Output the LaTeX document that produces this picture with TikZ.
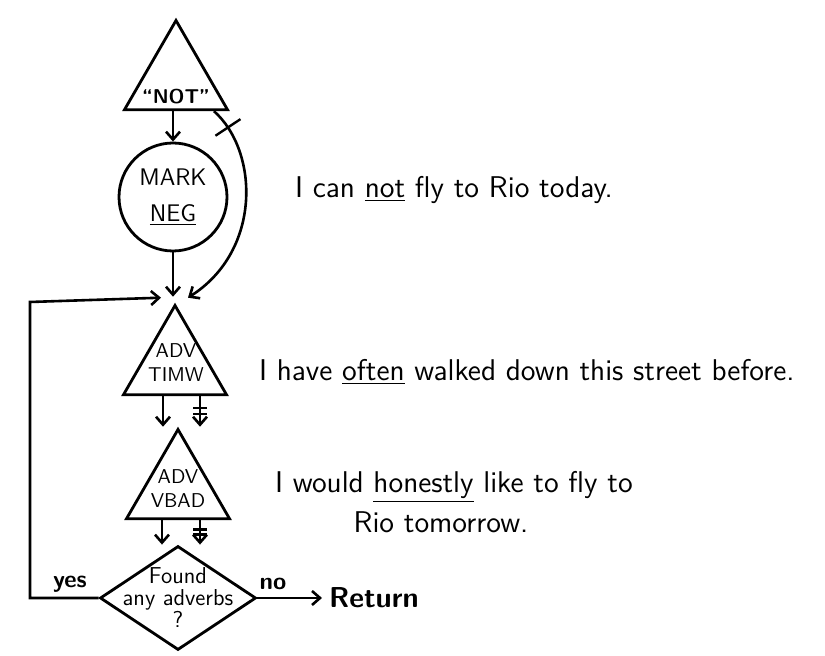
\documentclass[tikz,border=0pt]{standalone}
\usepackage{tikz}
\usetikzlibrary{arrows.meta,calc,positioning,shapes.geometric,decorations.markings}

\tikzset{
  tri/.style={draw,line width=1.4pt,regular polygon,regular polygon sides=3,minimum size=59.5pt,inner sep=0pt},
  tritxt/.style={align=center,font=\sffamily,inner sep=0pt},
  arr/.style={line width=1.3pt,-{Straight Barb[length=4pt,width=7pt]}},
  onebar/.style={postaction={decorate,decoration={markings,
      mark=at position 0.1 with {\draw[-,line width=1.2pt] (0,-7.5pt)--(0,7.5pt);}}}},
  twobars/.style={postaction={decorate,decoration={markings,
      mark=at position 0.38 with {\draw[-,line width=1.2pt] (0,-3.5pt)--(0,3.5pt);},
      mark=at position 0.58 with {\draw[-,line width=1.2pt] (0,-3.5pt)--(0,3.5pt);}}}},
  sent/.style={anchor=west,font=\sffamily\fontsize{15}{18}\selectfont},
  yesno/.style={font=\sffamily\large\bfseries},
}

\begin{document}
\begin{tikzpicture}[x=0.5pt,y=-0.5pt,font=\sffamily]
\useasboundingbox (0,0) rectangle (825,656);
% boxes of the chart
\node[tri] (not) at (176,80) {};
\node[font=\sffamily\bfseries,above=0pt of not.south] (nottxt) {``NOT''};
\node[draw,circle,line width=1.4pt,minimum size=54pt,inner sep=1pt,align=center,font=\sffamily\large] (mark) at (173,197) {MARK\\[4pt]\underline{NEG}};
\node[tri] (timw) at (175,365) {};
\node[tritxt] (timwtxt) at (176,363) {ADV\\TIMW};
\node[tri] (vbad) at (178,489) {};
\node[tritxt] (vbadtxt) at (178,489) {ADV\\VBAD};
\node[draw,diamond,line width=1.4pt,minimum width=78pt,minimum height=52pt,inner sep=0pt] (found) at (178,598) {};
\node[align=center,font=\sffamily\fontsize{11.5}{11}\selectfont] (foundtxt) at (found) {Found\\any adverbs\\?};
\node[anchor=west,font=\sffamily\Large\bfseries] (ret) at (322,598) {Return};
% example sentences
\node[sent] (s1) at (288,190) {I can \underline{not} fly to Rio today.};
\node[sent] (s2) at (252,372) {I have \underline{often} walked down this street before.};
\node[sent] (s3) at (268,487) {I would \underline{honestly} like to fly to};
\node[font=\sffamily\fontsize{15}{18}\selectfont] (s3b) at (441,522) {Rio tomorrow.};
% arrows
\draw[arr] (mark.north |- not.south) -- (mark.north);
\draw[arr,onebar] ([xshift=-8pt]not.corner 3) .. controls +(45,40) and +(74,-47) .. ([shift={(13,-5)}]timw.north);
\draw[arr] (mark.south) -- ([shift={(-2,-6)}]timw.north);
\coordinate (loop) at (30,302);
\draw[arr] (found.west) -| (loop) -- ([shift={(-14,-5)}]timw.north);
\node[yesno] (yes) at (70,584) {yes};
\node[yesno] (no) at (273,584) {no};
\draw[arr] (found.east) -- (ret.west);
\coordinate (ta) at ([xshift=-6pt]timw.south);
\coordinate (tb) at ([xshift=12.5pt]timw.south);
\draw[arr] (ta) -- (ta |- vbad.north);
\draw[arr,twobars] (tb) -- (tb |- vbad.north);
\coordinate (va) at ([xshift=-8pt]vbad.south);
\coordinate (vb) at ([xshift=11pt]vbad.south);
\draw[arr] (va) -- (va |- found.north);
\draw[arr,twobars] (vb) -- (vb |- found.north);
\end{tikzpicture}
\end{document}
